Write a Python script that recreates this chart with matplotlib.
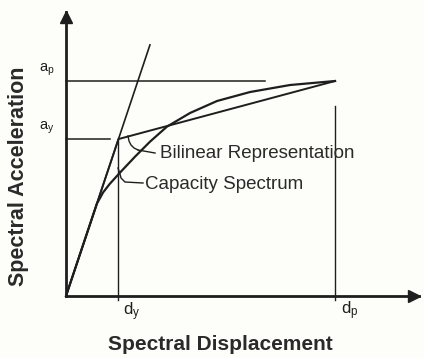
import numpy as np
import matplotlib
matplotlib.use("Agg")
import matplotlib.pyplot as plt

# ----------------------------------------------------------------------
# data (chart units: d_p = 10, a_p = 10)
# ----------------------------------------------------------------------
dy, ay = 1.95, 7.30
dp, ap = 10.0, 10.0

elastic_x = [0.0, 3.12]
elastic_y = [0.0, 3.12 * ay / dy]

bilinear_x = [0.0, dy, dp]
bilinear_y = [0.0, ay, ap]

capacity_x = [0.0, 1.15, 1.38, 1.63, 2.007, 2.565, 3.123, 3.755, 4.610, 5.613, 6.840, 8.327, 10.0]
capacity_y = [0.0, 4.300, 4.820, 5.220, 5.740, 6.480, 7.180, 7.880, 8.512, 9.070, 9.488, 9.814, 10.0]

ap_line_end = 7.40
ay_line_end = 1.64
dp_line_top = 8.84

arc_x = [2.305, 2.342, 2.416, 2.528, 2.677]
arc_y = [7.442, 7.209, 7.023, 6.884, 6.791]
bil_leader_x = [2.677, 3.309]
bil_leader_y = [6.791, 6.651]
cap_leader_x = [1.933, 2.000, 2.045, 2.193, 2.862]
cap_leader_y = [5.953, 5.700, 5.488, 5.302, 5.256]

XMAX, YMAX = 13.12, 13.21
INK = "#1e1e1e"
TXT = "#2a2a2a"

# ----------------------------------------------------------------------
# figure
# ----------------------------------------------------------------------
plt.rcParams["font.family"] = ["Liberation Sans", "DejaVu Sans"]
fig = plt.figure(figsize=(4.24, 3.58), dpi=100)
fig.patch.set_facecolor("#fdfdf9")
ax = fig.add_axes([66 / 424, 62 / 358, (419 - 66) / 424, (296 - 12) / 358])
ax.set_facecolor("none")
ax.set_xlim(0, XMAX)
ax.set_ylim(0, YMAX)
for s in ["top", "right"]:
    ax.spines[s].set_visible(False)
for s in ["left", "bottom"]:
    ax.spines[s].set_linewidth(2.0)
    ax.spines[s].set_color(INK)
ax.set_xticks([])
ax.set_yticks([])

# arrow heads
ax.plot(XMAX - 0.2, 0, marker=">", ms=8, color=INK, clip_on=False)
ax.plot(0, YMAX - 0.25, marker="^", ms=8, color=INK, clip_on=False)

# reference lines
ax.plot([0, ap_line_end], [ap, ap], color=INK, lw=1.1, clip_on=False)
ax.plot([0, ay_line_end], [ay, ay], color=INK, lw=1.1, clip_on=False)
ax.plot([dy, dy], [-0.2, ay], color=INK, lw=1.0, clip_on=False)
ax.plot([dp, dp], [-0.2, dp_line_top], color=INK, lw=1.0, clip_on=False)

# curves
ax.plot(elastic_x, elastic_y, color=INK, lw=1.2, clip_on=False)
ax.plot(bilinear_x, bilinear_y, color=INK, lw=1.4, clip_on=False)
ax.plot(capacity_x, capacity_y, color=INK, lw=1.6, clip_on=False)

# annotations
ax.plot(arc_x, arc_y, color=INK, lw=1.0)
ax.plot(bil_leader_x, bil_leader_y, color=INK, lw=1.0)
ax.plot(cap_leader_x, cap_leader_y, color=INK, lw=1.0)
ax.text(3.49, 6.65, "Bilinear Representation", fontsize=13.5,
        color=TXT, ha="left", va="center")
ax.text(2.94, 5.20, "Capacity Spectrum", fontsize=13.5,
        color=TXT, ha="left", va="center")

ax.text(-0.72, 10.5, r"$\mathregular{a_p}$", fontsize=10.5, color=INK,
        ha="center", va="center")
ax.text(-0.72, 7.8, r"$\mathregular{a_y}$", fontsize=10.5, color=INK,
        ha="center", va="center")
ax.text(2.45, -0.75, r"$\mathregular{d_y}$", fontsize=12, color=INK,
        ha="center", va="center")
ax.text(10.55, -0.7, r"$\mathregular{d_p}$", fontsize=12, color=INK,
        ha="center", va="center")

fig.text(220 / 424, 1 - 345 / 358, "Spectral Displacement", fontsize=15,
         fontweight="bold", color=TXT, ha="center", va="center")
fig.text(19 / 424, 1 - 176 / 358, "Spectral Acceleration", fontsize=15.5,
         fontweight="bold", color=TXT, ha="center", va="center",
         rotation=90)

fig.savefig("out.png", dpi=100, facecolor=fig.get_facecolor())
